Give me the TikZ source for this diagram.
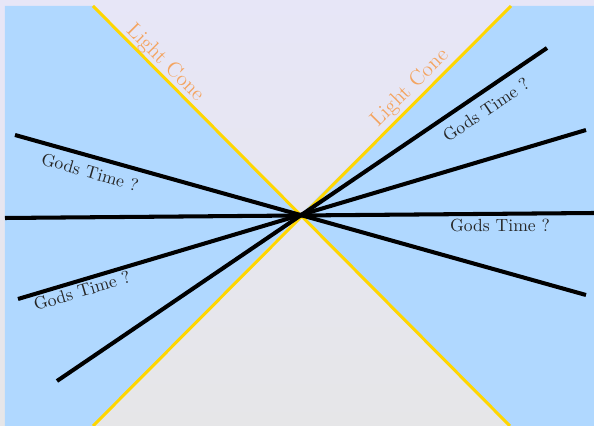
\documentclass[tikz,border=0pt]{standalone}
\usepackage{tikz}
\usetikzlibrary{positioning}
\definecolor{skyblue}{RGB}{176,216,255}
\definecolor{conegold}{RGB}{255,214,0}
\definecolor{conetext}{RGB}{244,164,96}
\definecolor{toplav}{RGB}{231,230,247}
\definecolor{botgrey}{RGB}{230,230,232}
\tikzstyle{cone}=[conegold,line width=1.7pt]
\tikzstyle{timeline}=[black,line width=2.3pt]
\tikzstyle{conelabel}=[text=conetext,font=\large]
\tikzstyle{timelabel}=[text=black!85]

\begin{document}
\begin{tikzpicture}
\useasboundingbox (-6,-4.22) rectangle (5.88,4.3);
\shade[top color=toplav,bottom color=botgrey] (-6,-4.22) rectangle (5.88,4.3);
%event
\coordinate (o) at (0,0);
\coordinate (conetl) at (-4.14,4.18);
\coordinate (conetr) at (4.22,4.18);
\coordinate (conebl) at (-4.14,-4.22);
\coordinate (conebr) at (4.2,-4.22);
%spacelike regions
\fill[skyblue] (-5.9,4.18) -- (conetl) -- (o) -- (conebl) -- (-5.9,-4.22) -- cycle;
\fill[skyblue] (5.88,4.18) -- (conetr) -- (o) -- (conebr) -- (5.88,-4.22) -- cycle;
\draw[cone] (conetl) -- (conebr);
\draw[cone] (conetr) -- (conebl);
\node[conelabel,rotate=-45] (lcl) at (-2.7,3.04) {Light Cone};
\node[conelabel,rotate=45] (lcr) at (2.2,2.54) {Light Cone};
%time axes
\coordinate (ta1) at (-5.7,1.6);
\coordinate (tb1) at (5.72,-1.6);
\coordinate (ta2) at (-5.9,-0.06);
\coordinate (tb2) at (5.88,0.04);
\coordinate (ta3) at (-5.64,-1.68);
\coordinate (tb3) at (5.72,1.7);
\coordinate (ta4) at (-4.86,-3.32);
\coordinate (tb4) at (4.94,3.34);
\foreach \i in {1,...,4}
  \draw[timeline] (ta\i) -- (tb\i);
\node[timelabel,rotate=-16] (gt1) at (-4.2,0.86) {Gods Time ?};
\node[timelabel,rotate=16.6] (gt2) at (-4.36,-1.52) {Gods Time ?};
\node[timelabel,rotate=34] (gt3) at (3.72,2.1) {Gods Time ?};
\node[timelabel] (gt4) at (4.0,-0.22) {Gods Time ?};
\end{tikzpicture}
\end{document}
